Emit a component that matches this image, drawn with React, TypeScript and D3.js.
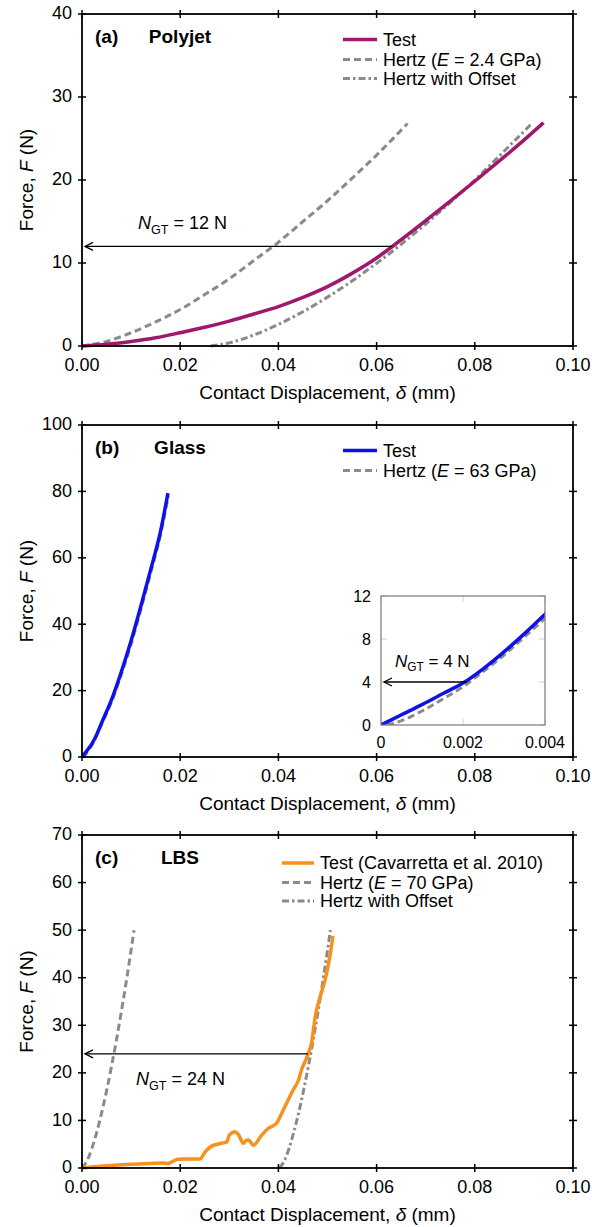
import * as d3 from "d3";

const FONT = "'Liberation Sans', Arial, Helvetica, sans-serif";
const GREY = "#8a8a8a";
const MAGENTA = "#a0186c";
const BLUE = "#1010e8";
const ORANGE = "#f7901e";

// axis ticks
const xTicks = [0, 0.02, 0.04, 0.06, 0.08, 0.1];
const yTicksA = [0, 10, 20, 30, 40];
const yTicksB = [0, 20, 40, 60, 80, 100];
const yTicksC = [0, 10, 20, 30, 40, 50, 60, 70];
const insetXTicks = [0, 0.002, 0.004];
const insetXLabels = ["0", "0.002", "0.004"];
const insetYTicks = [0, 4, 8, 12];

// (a) Polyjet  [displacement mm, force N]
const testA: [number, number][] = [
  [0, 0], [0.005, 0.2], [0.01, 0.55], [0.015, 1.0], [0.02, 1.6], [0.025, 2.25],
  [0.03, 3.0], [0.035, 3.85], [0.04, 4.75], [0.045, 5.85], [0.05, 7.15], [0.055, 8.75],
  [0.06, 10.6], [0.065, 12.8], [0.07, 15.1], [0.075, 17.45],
  [0.08, 19.85], [0.085, 22.3], [0.09, 24.8], [0.094, 26.9],
];
const hertzA: [number, number][] = [
  [0, 0], [0.005, 0.55], [0.01, 1.6], [0.015, 2.9], [0.02, 4.4], [0.025, 6.2],
  [0.03, 8.1], [0.035, 10.3], [0.04, 12.5], [0.045, 15.0], [0.05, 17.5],
  [0.055, 20.2], [0.06, 23.0], [0.0663, 26.8],
];
const offsetA: [number, number][] = [
  [0.0262, 0], [0.03, 0.38], [0.035, 1.33], [0.04, 2.6], [0.045, 4.13], [0.05, 5.89],
  [0.055, 7.83], [0.06, 9.97], [0.065, 12.25], [0.07, 14.7], [0.075, 17.3],
  [0.08, 20.0], [0.085, 22.9], [0.0916, 26.8],
];

// (b) Glass
const testB: [number, number][] = [
  [0, 0], [0.0005, 0.95], [0.001, 1.9], [0.0015, 2.9], [0.002, 3.9], [0.0025, 5.25],
  [0.003, 6.8], [0.0035, 8.5], [0.004, 10.3], [0.006, 17.2], [0.008, 25.6],
  [0.01, 35.0], [0.012, 45.5], [0.014, 56.5], [0.016, 68.0], [0.0175, 79.5],
];
const hertzB: [number, number][] = [
  [0.00015, 0], [0.0005, 0.4], [0.001, 1.3], [0.0015, 2.4], [0.002, 3.55],
  [0.0025, 5.0], [0.003, 6.5], [0.0035, 8.2], [0.004, 9.9], [0.006, 16.5],
  [0.008, 24.8], [0.01, 34.0], [0.012, 44.5], [0.014, 55.5], [0.016, 67.0],
  [0.0176, 78.8],
];

// (c) LBS
const testC: [number, number][] = [
  [0, 0], [0.003, 0.3], [0.006, 0.55], [0.01, 0.8], [0.014, 0.95], [0.0165, 1.05],
  [0.0175, 0.95], [0.0185, 1.4], [0.0195, 1.85], [0.0215, 1.9], [0.024, 1.9],
  [0.0251, 3.4], [0.0264, 4.6], [0.0284, 5.2], [0.0295, 5.5], [0.03, 6.9],
  [0.0312, 7.6], [0.0318, 7.1], [0.0329, 5.2], [0.0334, 5.8], [0.0339, 5.9],
  [0.0349, 4.8], [0.0366, 6.9], [0.0379, 8.3], [0.0396, 9.4], [0.041, 12.2],
  [0.043, 16.4], [0.0441, 18.5], [0.0447, 20.6], [0.046, 23.8], [0.0468, 26.6],
  [0.0475, 31.8], [0.0485, 36.0], [0.0495, 39.5], [0.0503, 43.5], [0.0508, 46.5],
  [0.0511, 48.8],
];
const hertzC: [number, number][] = [
  [0, 0], [0.001, 1.45], [0.002, 4.1], [0.003, 7.5], [0.004, 11.6], [0.005, 16.2],
  [0.006, 21.3], [0.007, 26.8], [0.008, 32.8], [0.009, 39.1], [0.0106, 50.0],
];
const offsetC: [number, number][] = [
  [0.0402, 0], [0.0412, 1.5], [0.0422, 4.2], [0.0432, 7.8], [0.0442, 11.9],
  [0.0452, 16.7], [0.0462, 21.9], [0.0472, 27.6], [0.0482, 33.7], [0.0492, 40.2],
  [0.0506, 50.0],
];

const X_LEFT = 82;
const X_RIGHT = 573;
const x = d3.scaleLinear().domain([0, 0.1]).range([X_LEFT, X_RIGHT]);
const fmtX = d3.format(".2f");

const SOLID = { width: 3.5, dash: undefined as string | undefined };
const DASH = { width: 3, dash: "7,4" };
const DASHDOT = { width: 3, dash: "7,3,2.5,3" };

type Series = { data: [number, number][]; color: string; style: typeof SOLID };

function linePath(data: [number, number][], sx: d3.ScaleLinear<number, number>, sy: d3.ScaleLinear<number, number>) {
  return d3.line<[number, number]>().x(d => sx(d[0])).y(d => sy(d[1])).curve(d3.curveMonotoneX)(data) || "";
}

function NLabel({ x0, y0, value, size }: { x0: number; y0: number; value: string; size: number }) {
  return (
    <text x={x0} y={y0} fontSize={size} fontFamily={FONT}>
      <tspan fontStyle="italic">N</tspan>
      <tspan fontSize={size * 0.7} dy={size * 0.25}>GT</tspan>
      <tspan dy={-size * 0.25}>{` = ${value} N`}</tspan>
    </text>
  );
}

function Arrow({ x1, x2, yy }: { x1: number; x2: number; yy: number }) {
  return (
    <g stroke="#000" strokeWidth={1.3} fill="none">
      <line x1={x1} y1={yy} x2={x2} y2={yy} />
      <path d={`M${x2 + 8},${yy - 4} L${x2},${yy} L${x2 + 8},${yy + 4}`} />
    </g>
  );
}

type LegendItem = { label: React.ReactNode; color: string; style: typeof SOLID };

function Legend({ x0, x1, rows }: { x0: number; x1: number; rows: { y: number; item: LegendItem }[] }) {
  return (
    <g>
      {rows.map((r, i) => (
        <g key={i}>
          <line x1={x0} x2={x1} y1={r.y} y2={r.y} stroke={r.item.color} strokeWidth={r.item.style.width}
            strokeDasharray={r.item.style.dash} />
          <text x={x1 + 6} y={r.y} dy="0.36em" fontSize={18} fontFamily={FONT}>{r.item.label}</text>
        </g>
      ))}
    </g>
  );
}

function hertzLabel(mod: string) {
  return (<>Hertz (<tspan fontStyle="italic">E</tspan> = {mod})</>);
}

function Panel({ top, bottom, yMax, yTicks, tag, name, series, children }: {
  top: number; bottom: number; yMax: number; yTicks: number[]; tag: string; name: string;
  series: Series[]; children?: (y: d3.ScaleLinear<number, number>) => React.ReactNode;
}) {
  const y = d3.scaleLinear().domain([0, yMax]).range([bottom, top]);
  const mid = (top + bottom) / 2;
  return (
    <g>
      {series.map((s, i) => (
        <path key={i} d={linePath(s.data, x, y)} fill="none" stroke={s.color}
          strokeWidth={s.style.width} strokeDasharray={s.style.dash} />
      ))}
      {children && children(y)}
      <rect x={X_LEFT} y={top} width={X_RIGHT - X_LEFT} height={bottom - top} fill="none" stroke="#000" strokeWidth={1.8} />
      {xTicks.map(t => (
        <g key={t}>
          <line x1={x(t)} x2={x(t)} y1={bottom - 4} y2={bottom + 4} stroke="#000" strokeWidth={1.5} />
          <line x1={x(t)} x2={x(t)} y1={top - 4} y2={top + 4} stroke="#000" strokeWidth={1.5} />
          <text x={x(t)} y={bottom + 25} textAnchor="middle" fontSize={18} fontFamily={FONT}>{fmtX(t)}</text>
        </g>
      ))}
      {yTicks.map(t => (
        <g key={t}>
          <line x1={X_LEFT - 4} x2={X_LEFT + 4} y1={y(t)} y2={y(t)} stroke="#000" strokeWidth={1.5} />
          <line x1={X_RIGHT - 4} x2={X_RIGHT + 4} y1={y(t)} y2={y(t)} stroke="#000" strokeWidth={1.5} />
          <text x={72} y={y(t) - 1} dy="0.36em" textAnchor="end" fontSize={18} fontFamily={FONT}>{t}</text>
        </g>
      ))}
      <text x={95} y={top + 29} fontSize={19} fontWeight="bold" fontFamily={FONT}>{tag}</text>
      <text x={180} y={top + 29} textAnchor="middle" fontSize={19} fontWeight="bold" fontFamily={FONT}>{name}</text>
      <text x={(X_LEFT + X_RIGHT) / 2} y={bottom + 53} textAnchor="middle" fontSize={19} fontFamily={FONT}>
        Contact Displacement, <tspan fontStyle="italic">δ</tspan> (mm)
      </text>
      <text transform={`translate(26,${mid}) rotate(-90)`} dy="0.36em" textAnchor="middle" fontSize={19} fontFamily={FONT}>
        Force, <tspan fontStyle="italic">F</tspan> (N)
      </text>
    </g>
  );
}

function Inset() {
  const ix = d3.scaleLinear().domain([0, 0.004]).range([381, 545]);
  const iy = d3.scaleLinear().domain([0, 12]).range([725, 596]);
  return (
    <g>
      <defs>
        <clipPath id="insetClip">
          <rect x={381} y={596} width={164} height={129} />
        </clipPath>
      </defs>
      <rect x={381} y={596} width={164} height={129} fill="#fff" />
      {insetYTicks.map(t => (
        <g key={t} stroke="#d0d0d0" strokeWidth={1}>
          <line x1={381} x2={387} y1={iy(t)} y2={iy(t)} />
          <line x1={539} x2={545} y1={iy(t)} y2={iy(t)} />
        </g>
      ))}
      {insetXTicks.map(t => (
        <g key={t} stroke="#d0d0d0" strokeWidth={1}>
          <line x1={ix(t)} x2={ix(t)} y1={596} y2={602} />
          <line x1={ix(t)} x2={ix(t)} y1={719} y2={725} />
        </g>
      ))}
      <g clipPath="url(#insetClip)">
        <path d={linePath(hertzB, ix, iy)} fill="none" stroke={GREY} strokeWidth={3} strokeDasharray="7,4" />
        <path d={linePath(testB, ix, iy)} fill="none" stroke={BLUE} strokeWidth={3.5} />
      </g>
      <Arrow x1={ix(0.0021)} x2={ix(0) + 3} yy={iy(4)} />
      <NLabel x0={395} y0={667} value="4" size={17} />
      <rect x={381} y={596} width={164} height={129} fill="none" stroke="#7a7a7a" strokeWidth={1.2} />
      {insetYTicks.map(t => (
        <text key={t} x={371} y={iy(t)} dy="0.36em" textAnchor="end" fontSize={16} fontFamily={FONT}>{t}</text>
      ))}
      {insetXTicks.map((t, i) => (
        <text key={t} x={ix(t)} y={748} textAnchor="middle" fontSize={16} fontFamily={FONT}>{insetXLabels[i]}</text>
      ))}
    </g>
  );
}

export default function App() {
  return (
    <svg width={592} height={1227} viewBox="0 0 592 1227"
      style={{ position: "absolute", left: 0, top: 0, background: "#fff" }}>
      <rect width={592} height={1227} fill="#fff" />
      <Panel top={14} bottom={346} yMax={40} yTicks={yTicksA} tag="(a)" name="Polyjet"
        series={[
          { data: hertzA, color: GREY, style: DASH },
          { data: offsetA, color: GREY, style: DASHDOT },
          { data: testA, color: MAGENTA, style: SOLID },
        ]}>
        {y => (
          <g>
            <Arrow x1={x(0.0632)} x2={x(0) + 3} yy={y(12)} />
            <NLabel x0={138} y0={229} value="12" size={18} />
            <Legend x0={343} x1={377} rows={[
              { y: 39.5, item: { label: "Test", color: MAGENTA, style: SOLID } },
              { y: 59.5, item: { label: hertzLabel("2.4 GPa"), color: GREY, style: DASH } },
              { y: 78.5, item: { label: "Hertz with Offset", color: GREY, style: DASHDOT } },
            ]} />
          </g>
        )}
      </Panel>
      <Panel top={425} bottom={757} yMax={100} yTicks={yTicksB} tag="(b)" name="Glass"
        series={[
          { data: hertzB, color: GREY, style: DASH },
          { data: testB, color: BLUE, style: SOLID },
        ]}>
        {() => (
          <g>
            <Legend x0={343} x1={377} rows={[
              { y: 450.5, item: { label: "Test", color: BLUE, style: SOLID } },
              { y: 470.5, item: { label: hertzLabel("63 GPa"), color: GREY, style: DASH } },
            ]} />
            <Inset />
          </g>
        )}
      </Panel>
      <Panel top={835} bottom={1168} yMax={70} yTicks={yTicksC} tag="(c)" name="LBS"
        series={[
          { data: hertzC, color: GREY, style: DASH },
          { data: offsetC, color: GREY, style: DASHDOT },
          { data: testC, color: ORANGE, style: SOLID },
        ]}>
        {y => (
          <g>
            <Arrow x1={x(0.046)} x2={x(0) + 3} yy={y(24)} />
            <NLabel x0={136} y0={1085} value="24" size={18} />
            <Legend x0={282} x1={314} rows={[
              { y: 863, item: { label: "Test (Cavarretta et al. 2010)", color: ORANGE, style: SOLID } },
              { y: 882.5, item: { label: hertzLabel("70 GPa"), color: GREY, style: DASH } },
              { y: 901, item: { label: "Hertz with Offset", color: GREY, style: DASHDOT } },
            ]} />
          </g>
        )}
      </Panel>
    </svg>
  );
}
